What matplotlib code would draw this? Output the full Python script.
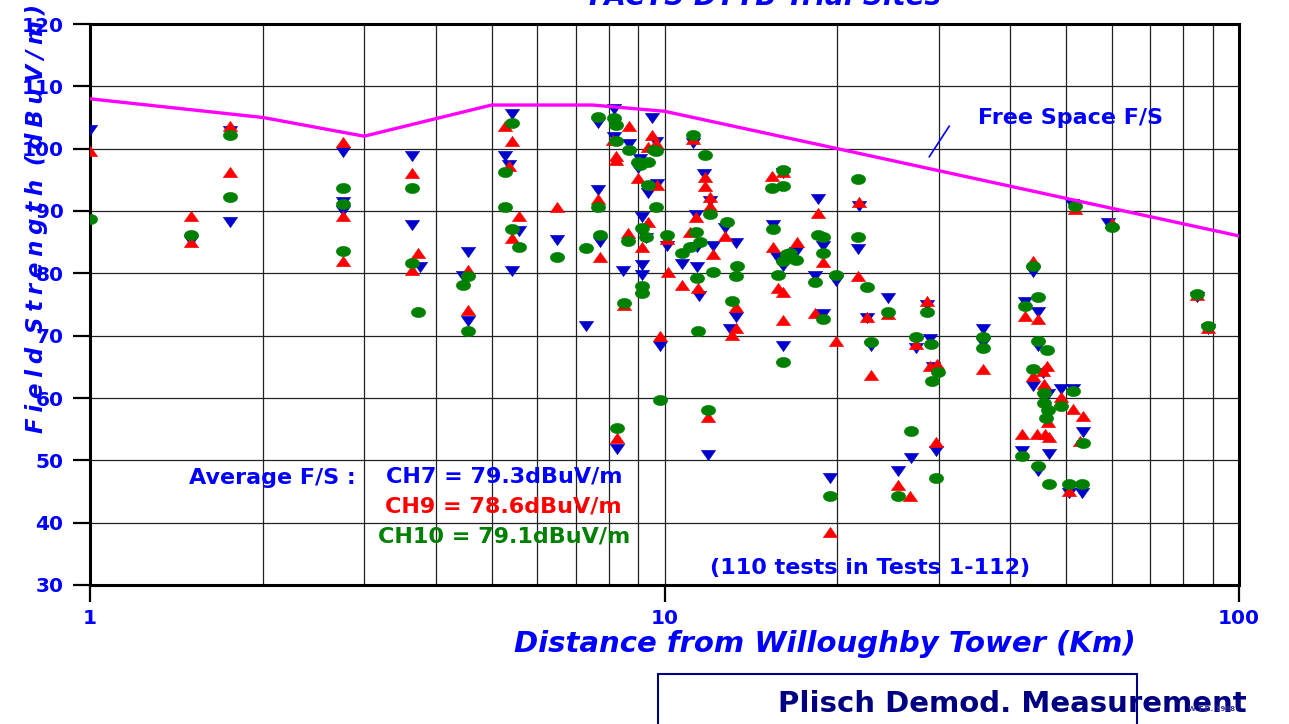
import numpy as np
import matplotlib
matplotlib.use('Agg')
import matplotlib.pyplot as plt
from matplotlib.path import Path
from matplotlib.transforms import Affine2D
from matplotlib.patches import Rectangle

# ---------------- data ----------------
fs_km = [1, 2, 3, 5, 7.5, 10, 20, 100]
fs_dbuv = [108, 105, 102, 107, 107, 106, 100, 86]

ch7_km = [1.00, 1.50, 1.75, 1.75, 2.76, 2.76, 2.76, 3.64, 3.64, 3.75, 4.55, 4.46, 4.55,
          5.28, 5.36, 5.43, 5.58, 5.43, 6.50, 7.30, 7.66, 7.66, 7.72, 8.17, 8.17, 8.27,
          8.47, 8.68, 8.99, 9.07, 9.14, 9.14, 9.14, 9.29, 9.36, 9.70, 9.51, 9.67, 9.82,
          10.10, 10.73, 11.21, 11.34, 11.39, 11.48, 11.39, 11.90, 11.72, 12.00, 12.14,
          12.74, 13.32, 13.32, 13.00, 15.45, 15.70, 16.08, 16.08, 16.08, 16.94, 18.50,
          18.88, 18.28, 18.88, 19.42, 19.89, 21.81, 21.72, 22.52, 22.88, 24.49, 25.49,
          26.86, 27.41, 28.64, 28.99, 29.70, 29.34, 35.85, 35.85, 41.91, 42.42, 43.80,
          43.80, 44.69, 44.69, 44.69, 46.51, 46.70, 45.59, 48.99, 51.41, 50.59, 53.30,
          53.52, 51.20, 59.16, 84.54, 88.35]
ch7_dbuv = [103.0, 85.2, 102.8, 88.2, 99.5, 91.4, 90.0, 98.8, 87.8, 81.0, 83.4, 79.5, 72.4,
            98.8, 97.4, 105.6, 86.8, 80.4, 85.3, 71.6, 104.1, 93.4, 85.0, 106.4, 101.9, 51.8,
            80.4, 100.7, 96.9, 98.3, 89.0, 81.3, 79.7, 85.7, 92.9, 94.3, 104.9, 101.1, 68.3,
            84.4, 81.5, 100.9, 89.4, 81.0, 76.4, 84.2, 50.8, 95.9, 91.6, 84.4,
            87.3, 84.9, 73.0, 71.1, 87.8, 82.6, 96.1, 81.2, 68.3, 83.4, 91.9,
            84.4, 79.6, 73.5, 47.2, 78.8, 90.8, 83.9, 72.8, 68.3, 76.0, 48.3,
            50.4, 68.0, 74.9, 69.5, 51.5, 65.0, 71.1, 68.8, 51.5, 75.4, 80.2,
            61.9, 73.8, 68.3, 48.3, 60.6, 51.0, 64.0, 61.4, 61.4, 44.8, 44.8,
            54.5, 91.1, 88.1, 76.2, 71.1]

ch9_km = [1.00, 1.50, 1.50, 1.75, 1.75, 2.76, 2.76, 2.76, 3.64, 3.64, 3.72, 4.55, 4.55,
          5.28, 5.36, 5.43, 5.58, 5.43, 6.50, 7.66, 7.72, 8.14, 8.23, 8.23, 8.27, 8.50,
          8.68, 8.64, 8.99, 9.14, 9.14, 9.36, 9.36, 9.51, 9.67, 9.70, 9.82, 10.14, 10.10,
          10.73, 11.08, 11.21, 11.34, 11.44, 11.76, 11.76, 11.90, 12.00, 12.00, 12.14,
          12.74, 13.32, 13.32, 13.10, 15.39, 15.45, 15.76, 16.08, 16.08, 16.08, 17.01,
          18.50, 18.88, 18.28, 19.42, 19.89, 21.72, 21.81, 22.52, 22.88, 24.49, 25.49,
          26.75, 27.41, 28.64, 28.99, 29.82, 29.70, 35.85, 41.91, 42.42, 43.80, 43.80,
          44.51, 44.69, 45.59, 45.77, 45.96, 46.33, 46.51, 46.70, 48.99, 50.59, 51.41,
          51.82, 52.87, 53.52, 60.12, 84.54, 88.35]
ch9_dbuv = [99.6, 89.2, 85.0, 103.6, 96.3, 101.1, 89.2, 82.0, 96.1, 80.5, 83.3, 80.5, 74.1,
            103.6, 97.2, 101.2, 89.2, 85.7, 90.6, 91.9, 82.6, 101.4, 98.8, 98.2, 53.6, 74.9,
            103.6, 86.5, 95.3, 84.2, 77.6, 88.2, 100.3, 102.2, 100.9, 94.2, 69.9, 80.2, 85.5,
            78.1, 86.6, 101.5, 89.0, 77.6, 95.4, 94.0, 56.9, 92.2, 90.8, 83.1,
            86.0, 74.6, 71.2, 70.1, 95.6, 84.2, 77.6, 77.0, 72.5, 96.3, 85.0,
            89.7, 81.8, 73.6, 38.5, 69.1, 79.6, 91.4, 73.0, 63.7, 73.5, 46.0,
            44.3, 68.7, 75.6, 65.1, 65.5, 52.9, 64.6, 54.2, 73.2, 82.0, 63.5,
            54.2, 72.7, 64.3, 62.2, 54.2, 65.1, 56.1, 53.7, 60.2, 45.1, 58.2,
            90.3, 53.1, 57.1, 88.1, 76.5, 71.3]

ch10_km = [1.00, 1.50, 1.75, 1.75, 2.76, 2.76, 2.76, 3.64, 3.64, 3.72, 4.55, 4.46, 4.55,
           5.28, 5.43, 5.28, 5.43, 5.58, 6.50, 7.30, 7.66, 7.66, 7.72, 8.17, 8.23, 8.23,
           8.27, 8.50, 8.68, 8.64, 8.99, 9.07, 9.14, 9.14, 9.14, 9.36, 9.36, 9.29, 9.59,
           9.67, 9.67, 9.82, 10.10, 10.73, 11.21, 11.34, 11.39, 11.08, 11.53, 11.44, 11.76,
           11.90, 12.00, 12.14, 12.84, 13.37, 13.32, 13.10, 15.39, 15.45, 15.76, 16.08,
           16.08, 16.08, 16.08, 16.34, 16.54, 16.94, 18.50, 18.88, 18.88, 18.28, 18.88,
           19.42, 19.89, 21.72, 21.72, 22.52, 22.88, 24.49, 25.49, 26.86, 27.41, 28.64,
           29.11, 29.22, 29.94, 29.70, 35.85, 35.85, 41.91, 42.42, 43.80, 43.80, 44.69,
           44.69, 44.69, 45.77, 45.77, 46.33, 46.51, 46.13, 46.70, 48.99, 51.41, 50.59,
           53.30, 53.52, 51.82, 60.12, 84.54, 88.35]
ch10_dbuv = [88.7, 86.1, 102.2, 92.2, 93.7, 91.1, 83.6, 93.7, 81.7, 73.8, 79.6, 78.1, 70.7,
             96.2, 104.1, 90.6, 87.1, 84.2, 82.6, 84.1, 105.1, 90.6, 86.1, 104.9, 103.8, 101.2,
             55.2, 75.2, 99.8, 85.2, 97.9, 97.4, 87.3, 76.8, 78.0, 97.9, 94.2, 85.8, 99.8,
             99.6, 90.6, 59.7, 86.1, 83.3, 102.2, 86.6, 79.3, 84.2, 85.0, 70.7, 99.0,
             58.1, 89.5, 80.2, 88.2, 81.2, 79.6, 75.6, 93.7, 87.1, 79.7, 96.6,
             94.0, 82.0, 65.8, 83.1, 83.3, 82.1, 86.1, 85.8, 83.3, 78.6, 72.7,
             44.3, 79.7, 95.1, 85.8, 77.8, 69.0, 73.8, 44.3, 54.7, 69.8, 73.8,
             68.7, 62.7, 64.2, 47.2, 69.8, 68.0, 50.7, 74.8, 81.2, 64.6, 76.2,
             69.1, 49.1, 60.8, 59.2, 67.7, 58.1, 56.8, 46.2, 58.7, 61.1, 46.2,
             46.2, 52.8, 90.8, 87.4, 76.7, 71.5]

x_ticks = [1, 10, 100]
x_ticklabels = ['1', '10', '100']
y_ticks = [30, 40, 50, 60, 70, 80, 90, 100, 110, 120]

# ---------------- styling ----------------
W, H = 1289, 724
def fx(px):
    return px / W
def fy(py):
    return 1 - py / H

BLUE_TXT = '#0000FF'
BLUE_MK = '#0000CC'
RED = '#FF0000'
GREEN = '#008000'
MAGENTA = '#FF00FF'
NAVY = '#000080'

fig = plt.figure(figsize=(12.89, 7.24), dpi=100)
fig.patch.set_facecolor('white')
ax = fig.add_axes([fx(90), fy(585), fx(1239) - fx(90), fy(24) - fy(585)])
ax.set_xscale('log')
ax.set_xlim(1, 100)
ax.set_ylim(30, 120)

# custom markers (wide, like the stretched Excel chart)
tri_up = Path([(-0.7, -0.5), (0.7, -0.5), (0, 0.5), (-0.7, -0.5)],
              [Path.MOVETO, Path.LINETO, Path.LINETO, Path.CLOSEPOLY])
tri_dn = Path([(-0.7, 0.5), (0.7, 0.5), (0, -0.5), (-0.7, 0.5)],
              [Path.MOVETO, Path.LINETO, Path.LINETO, Path.CLOSEPOLY])
ellipse = Affine2D().scale(1.4, 1.0).transform_path(Path.unit_circle())

ax.grid(True, which='both', axis='x', color='#222222', lw=0.9, zorder=0)
ax.grid(True, which='major', axis='y', color='#222222', lw=0.9, zorder=0)
ax.set_axisbelow(True)

ms = 10.3
ax.plot(ch7_km, ch7_dbuv, ls='none', marker=tri_dn, ms=ms, mfc=BLUE_MK, mec=BLUE_MK,
        mew=0.4, zorder=3)
ax.plot(ch9_km, ch9_dbuv, ls='none', marker=tri_up, ms=ms, mfc=RED, mec=RED,
        mew=0.4, zorder=4)
ax.plot(ch10_km, ch10_dbuv, ls='none', marker=ellipse, ms=ms, mfc=GREEN, mec=GREEN,
        mew=0.4, zorder=5)
ax.plot(fs_km, fs_dbuv, color=MAGENTA, lw=2.4, zorder=6, solid_joinstyle='miter')

ax.set_xticks(x_ticks)
ax.set_xticklabels(x_ticklabels)
ax.set_yticks(y_ticks)
ax.tick_params(axis='both', which='major', direction='out', length=12, width=1.6,
               color='black', labelsize=14.5, labelcolor=BLUE_TXT)
ax.tick_params(axis='y', pad=7)
ax.tick_params(axis='x', pad=5)
ax.tick_params(axis='x', which='minor', length=0)
for lab in ax.get_xticklabels() + ax.get_yticklabels():
    lab.set_fontweight('bold')
for sp in ax.spines.values():
    sp.set_linewidth(2.2)
    sp.set_color('black')

# pointer for free-space label
ax.plot([28.9, 31.3], [98.7, 103.6], color=BLUE_TXT, lw=1.2, zorder=7)

# ---------------- texts ----------------
bold = dict(fontweight='bold', family='DejaVu Sans')
fig.text(fx(765), fy(5), 'FACTS DTTB Trial Sites', ha='center', va='baseline',
         fontsize=20, style='italic', color=BLUE_TXT, **bold)

sp4 = '\u2005'
ylab = (' ' + sp4).join(sp4.join(list(w)) for w in ['Field', 'Strength', '(dBuV/m)'])
fig.text(fx(37), fy(218), ylab, rotation=90, ha='center', va='center', fontsize=16.5,
         style='italic', color=BLUE_TXT, **bold)

fig.text(fx(825), fy(652), 'Distance from Willoughby Tower (Km)', ha='center',
         va='baseline', fontsize=21, style='italic', color=BLUE_TXT, **bold)

fig.text(fx(1070), fy(124), 'Free Space F/S', ha='center', va='baseline', fontsize=16,
         color=BLUE_TXT, **bold)
fig.text(fx(272), fy(484), 'Average F/S :', ha='center', va='baseline', fontsize=16,
         color=BLUE_TXT, **bold)
fig.text(fx(504), fy(482), 'CH7 = 79.3dBuV/m', ha='center', va='baseline', fontsize=16,
         color=BLUE_TXT, **bold)
fig.text(fx(503), fy(513), 'CH9 = 78.6dBuV/m', ha='center', va='baseline', fontsize=16,
         color=RED, **bold)
fig.text(fx(504), fy(542), 'CH10 = 79.1dBuV/m', ha='center', va='baseline', fontsize=16,
         color=GREEN, **bold)
fig.text(fx(870), fy(574), '(110 tests in Tests 1-112)', ha='center', va='baseline',
         fontsize=16, color=BLUE_TXT, **bold)

# bottom caption box
fig.patches.append(Rectangle((fx(658), fy(740)), fx(1137) - fx(658), fy(674) - fy(740),
                             transform=fig.transFigure, fill=False, edgecolor=NAVY,
                             lw=1.5, clip_on=False))
fig.text(fx(1012), fy(712), 'Plisch Demod. Measurement', ha='center', va='baseline',
         fontsize=21, color=NAVY, **bold)
fig.text(fx(1212), fy(711), 'W.T.D. 1998', ha='center', va='baseline', fontsize=5,
         color='#333399', **bold)

fig.savefig('out.png', dpi=100)
